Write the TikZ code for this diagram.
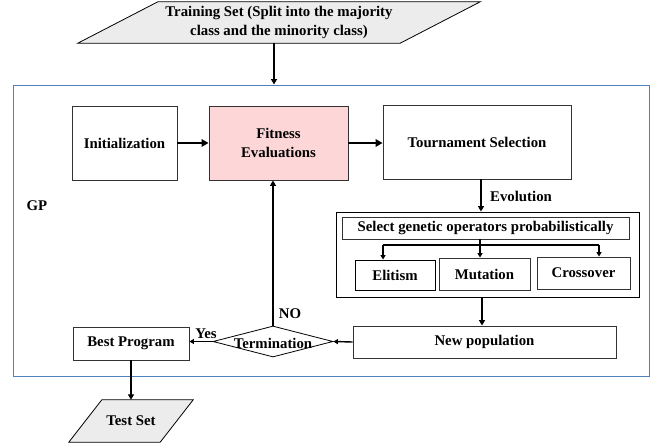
\documentclass[tikz,border=0pt]{standalone}
\usepackage{fontspec}
\setmainfont{Liberation Serif}
\usetikzlibrary{shapes.geometric,arrows.meta,backgrounds}
\definecolor{gpblue}{RGB}{79,129,189}
\definecolor{fitpink}{RGB}{253,215,215}
\definecolor{paragray}{RGB}{236,236,236}
\definecolor{edgegray}{RGB}{50,50,50}
\begin{document}
\begin{tikzpicture}[x=1pt,y=-1pt,
  font=\fontsize{14.8}{18.5}\selectfont\bfseries,
  box/.style={draw=edgegray,line width=0.9pt,inner sep=0pt,align=center},
  opbox/.style={draw=black,line width=0.9pt,inner sep=0pt,align=center},
  plain/.style={inner sep=0pt,align=center},
  para/.style={draw=black,line width=0.8pt,fill=paragray},
  bigarrow/.style={line width=2.2pt,-{Triangle[length=7pt,width=7.5pt]}},
  midarrow/.style={line width=1.6pt,-{Triangle[length=5.5pt,width=6pt]}},
  smallarrow/.style={line width=1.4pt,-{Triangle[length=4.5pt,width=5pt]}},
  branchline/.style={line width=1.4pt},
  lbl/.style={inner sep=0pt}
]
\useasboundingbox (0,0) rectangle (669,445);

% outer GP box
\node[draw=gpblue,line width=1pt,minimum width=636pt,minimum height=291pt,inner sep=0pt] (gpbox) at (331,230.5) {};
\node[lbl] (gp) at (37,206) {GP};

% training set parallelogram
\node[plain,minimum width=322pt,minimum height=41pt] (train) at (279,22.5) {Training Set (Split into the majority\\class and the minority class)};
\begin{scope}[on background layer]
\draw[para] ([xshift=40pt]train.north west) -- ([xshift=40pt]train.north east)
  -- ([xshift=-40pt]train.south east) -- ([xshift=-40pt]train.south west) -- cycle;
\end{scope}

% top row
\node[box,minimum width=105pt,minimum height=74pt] (init) at (124.5,143) {Initialization};
\node[box,fill=fitpink,minimum width=139pt,minimum height=74pt] (fit) at (278.5,143) {Fitness\\Evaluations};
\node[box,minimum width=188pt,minimum height=74pt] (tour) at (477,142) {Tournament Selection};

% operators
\node[opbox,minimum width=303pt,minimum height=85pt] (ops) at (487.5,254.5) {};
\node[box,minimum width=287pt,minimum height=22pt] (sel) at (485.5,228) {Select genetic operators probabilistically};
\node[opbox,minimum width=80pt,minimum height=30pt] (elit) at (395,275) {Elitism};
\node[box,minimum width=91pt,minimum height=32pt] (mut) at (484.5,274) {Mutation};
\node[box,minimum width=93pt,minimum height=32pt] (cross) at (583.5,273) {Crossover};

% bottom row
\node[box,minimum width=263pt,minimum height=32pt] (newpop) at (484.5,342) {New population};
\node[draw=black,line width=0.8pt,shape=diamond,shape aspect=3.9,minimum width=120pt,minimum height=31pt,inner sep=0pt] (term) at (273,341.5) {};
\node[lbl] (termtxt) at (273,343) {Termination};
\node[box,minimum width=116pt,minimum height=33pt] (best) at (131,343.5) {Best Program};

% test set parallelogram
\node[plain,minimum width=91pt,minimum height=42pt] (test) at (131,421) {Test Set};
\begin{scope}[on background layer]
\draw[para] ([xshift=16.5pt]test.north west) -- ([xshift=16.5pt]test.north east)
  -- ([xshift=-16.5pt]test.south east) -- ([xshift=-16.5pt]test.south west) -- cycle;
\end{scope}

% connectors
\draw[midarrow] ([xshift=-5pt]train.south) -- ([xshift=-5pt]train.south |- gpbox.north);
\draw[bigarrow] (init.east) -- (fit.west);
\draw[bigarrow] (fit.east) -- (fit.east -| tour.west);
\coordinate (evo) at (481,179);
\draw[midarrow] (evo) -- (evo |- ops.north);
\node[lbl,anchor=west] (evolbl) at (490,196) {Evolution};

\coordinate (brc) at (480,245);
\coordinate (brl) at (383,245);
\coordinate (brr) at (599,245);
\draw[branchline] (sel.south -| brc) -- (brc);
\draw[branchline] (brl) -- (brr);
\draw[smallarrow] (brl) -- (brl |- elit.north);
\draw[smallarrow] (brc) -- (brc |- mut.north);
\draw[smallarrow] (brr) -- (brr |- cross.north);

\draw[midarrow] (ops.south -| 482,0) -- (newpop.north -| 482,0);
\draw[smallarrow] (newpop.west) -- (term.east);
\draw[smallarrow] (term.west) -- (term.west -| best.east);
\node[lbl] (yes) at (206,334) {Yes};
\draw[midarrow] (term.north) -- (term.north |- fit.south);
\node[lbl] (no) at (290,314) {NO};
\draw[midarrow] (best.south) -- (test.north);
\end{tikzpicture}
\end{document}
